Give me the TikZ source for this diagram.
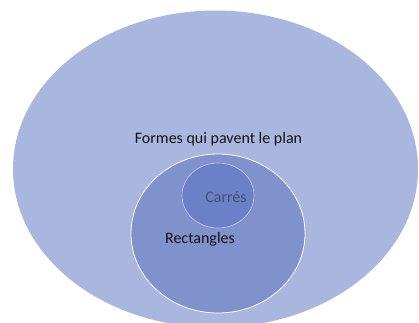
\documentclass[tikz,border=0pt]{standalone}
\usepackage{fontspec}
\setmainfont{Carlito}
\usetikzlibrary{shapes.geometric}
\definecolor{outerfill}{HTML}{A9B7DE}
\definecolor{midfill}{HTML}{7F92CC}
\definecolor{smallfill}{HTML}{6B80C6}
\definecolor{carretext}{HTML}{44546A}
\definecolor{darktext}{HTML}{141414}
\tikzset{
  blob/.style={ellipse, inner sep=0pt, outer sep=0pt},
  lbl/.style={anchor=base, inner sep=0pt, font=\fontsize{16bp}{19bp}\selectfont}
}
\begin{document}
\begin{tikzpicture}[x=1bp, y=-1bp]
\useasboundingbox (0,0) rectangle (419,323);
\begin{scope}
\clip (0,0) rectangle (419,323);
\node[blob, fill=outerfill, minimum width=405bp, minimum height=317bp] (formes) at (215.5,169) {};
\end{scope}
\node[blob, fill=midfill, draw=white, line width=0.8bp, minimum width=174bp, minimum height=159bp] (rect) at (218,233.5) {};
\node[blob, fill=smallfill, draw=white!55!midfill, line width=0.6bp, minimum width=72bp, minimum height=65bp] (carre) at (218,195.5) {};
\node[lbl, text=darktext] (tformes) at (218.5,143.3) {Formes qui pavent le plan};
\node[lbl, text=carretext] (tcarre) at (226,202.5) {Carrés};
\node[lbl, text=darktext] (trect) at (200,243.8) {Rectangles};
\end{tikzpicture}
\end{document}
